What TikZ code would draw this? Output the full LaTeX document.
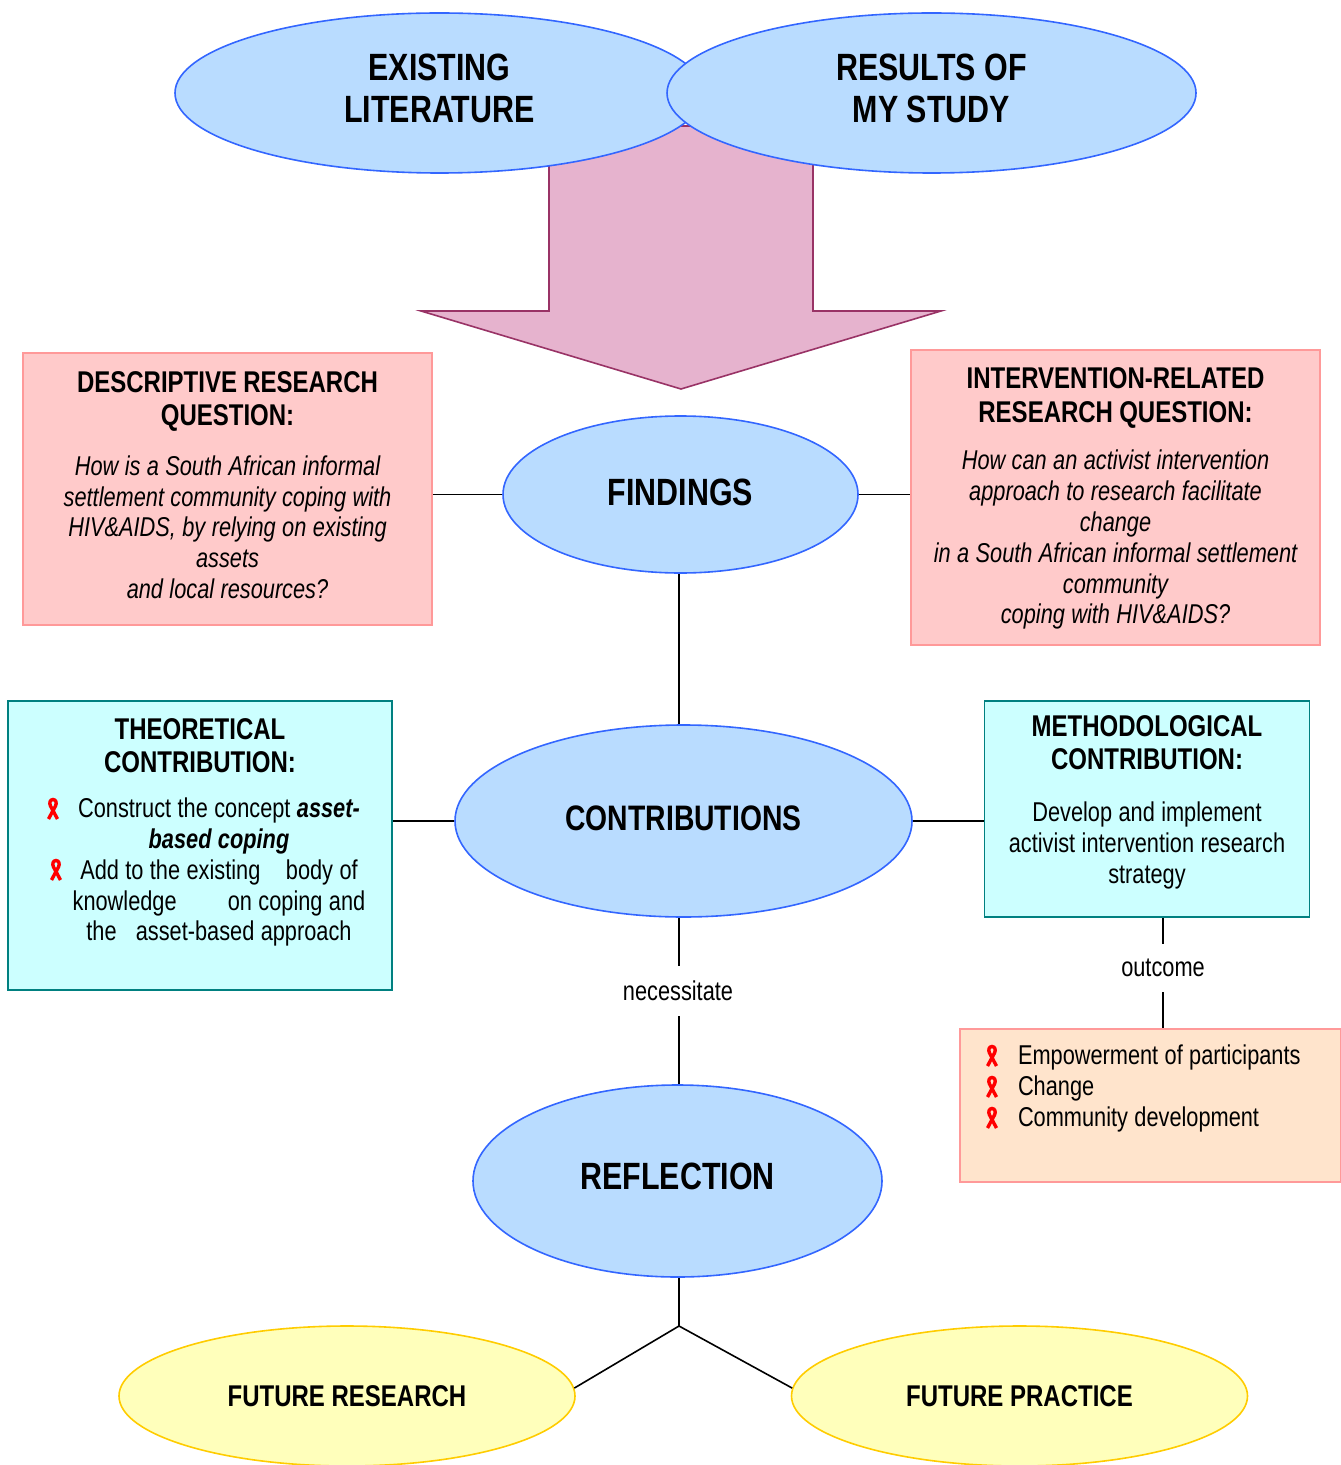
\documentclass[tikz,border=0pt]{standalone}
\usepackage{fontspec}
\setmainfont[FakeStretch=0.8]{Liberation Sans}
\usetikzlibrary{shapes.geometric}

\newcommand{\boxhead}[1]{{\fontsize{15}{16.75}\selectfont\bfseries\spaceskip=3.1pt\relax #1\par}}
\newcommand{\boxfoot}[1]{\par\nointerlineskip\vbox to #1{}}
\newcommand{\boxcenter}{\centering\spaceskip=3.2pt\relax}
\newcommand{\boxleft}{\raggedright\spaceskip=3.2pt\relax}

\definecolor{ellfill}{HTML}{B9DCFF}
\definecolor{ellline}{HTML}{3366FF}
\definecolor{arrfill}{HTML}{E6B3CE}
\definecolor{arrline}{HTML}{993366}
\definecolor{pinkfill}{HTML}{FFCACA}
\definecolor{pinkline}{HTML}{FF9999}
\definecolor{cyanfill}{HTML}{CCFFFF}
\definecolor{cyanline}{HTML}{008080}
\definecolor{peachfill}{HTML}{FFE4CC}
\definecolor{yelfill}{HTML}{FFFFBB}
\definecolor{yelline}{HTML}{FFCC00}

\begin{document}
\begin{tikzpicture}[x=0.5pt,y=-0.5pt,
    bigell/.style ={ellipse, draw=ellline, fill=ellfill, thick, inner sep = 0pt, align=center, font=\fontsize{19}{21}\selectfont\bfseries},
    smallell/.style ={ellipse, draw=yelline, fill=yelfill, thick, inner sep = 0pt, font=\fontsize{15}{17}\selectfont\bfseries, minimum width=228pt, minimum height=70pt},
    textbox/.style ={rectangle, thick, inner sep = 0pt, font=\fontsize{13.6}{15.4}\selectfont},
    question/.style ={textbox, draw=pinkline, fill=pinkfill, minimum width=204.5pt, execute at begin node=\boxcenter},
    contrib/.style ={textbox, draw=cyanline, fill=cyanfill, execute at begin node=\boxcenter},
    gaplabel/.style ={fill=white, inner sep = 0pt, font=\fontsize{13.6}{15.4}\selectfont},
    ribbon/.pic ={\draw[red, line width=1.7pt] (-4.5,10) -- (2.5,-3) .. controls (4,-6) and (3,-9.5) .. (0,-9.5) .. controls (-3,-9.5) and (-4,-6) .. (-2.5,-3) -- (4.5,10);}]
   \useasboundingbox (0,0) rectangle (1340,1465);

   \draw[thick, draw=arrline, fill=arrfill] (549,126) -- (813,126) -- (813,311) -- (941,311) -- (681,389) -- (421,311) -- (549,311) -- cycle;

   \node[bigell, minimum width=264.5pt, minimum height=80pt, text depth=5pt] (L) at (439.5,93) {EXISTING\\[0pt]LITERATURE};
   \node[bigell, minimum width=264.5pt, minimum height=80pt, text depth=5pt] (S) at (931.5,93) {RESULTS OF\\[0pt]MY STUDY};
   \node[bigell, minimum width=177.5pt, minimum height=78.5pt, text depth=2pt] (F) at (680.5,494.5) {FINDINGS};
   \node[bigell, minimum width=228.5pt, minimum height=96pt, text depth=3pt, font=\fontsize{17.7}{21}\selectfont\bfseries] (C) at (683.5,821) {CONTRIBUTIONS};
   \node[bigell, minimum width=204.5pt, minimum height=96pt, text depth=5pt] (R) at (677.5,1181) {REFLECTION};
   \node[smallell] (A) at (347,1396) {FUTURE RESEARCH};
   \node[smallell] (B) at (1019.5,1396) {FUTURE PRACTICE};

   \node[question, text width=200pt, minimum height=136pt] (D) at (227.5,489) {\boxhead{DESCRIPTIVE RESEARCH\\QUESTION:}\vspace{9.5pt}\itshape
     How is a South African informal\\settlement community coping with\\HIV\&AIDS, by relying on existing\\assets\\and local resources?\boxfoot{4pt}};
   \node[question, text width=200pt, minimum height=147.5pt] (I) at (1115.5,497.5) {\boxhead{\rule{0pt}{11.5pt}INTERVENTION-RELATED\\RESEARCH QUESTION:}\vspace{8.5pt}\itshape
     How can an activist intervention\\approach to research facilitate\\change\\in a South African informal settlement\\community\\coping with HIV\&AIDS?};
   \node[contrib, text width=190pt, minimum width=192pt, minimum height=144.5pt] (T) at (200,845.5) {\boxhead{THEORETICAL\\CONTRIBUTION:}\vspace{7pt}{\leftskip=19pt plus 1fil \rightskip=0pt plus 1fil
     Construct the concept \textbf{\textit{asset-}}\\\textbf{\textit{based coping}}\\Add to the existing\ \ \ \ body of\\knowledge\ \ \ \ \ \ \ \ on coping and\\the\ \ \ asset-based approach\par}\boxfoot{13pt}};
   \node[contrib, text width=160pt, minimum width=162.5pt, minimum height=108pt] (M) at (1147,809) {\boxhead{METHODOLOGICAL\\CONTRIBUTION:}\vspace{10.5pt}
     Develop and implement\\activist intervention research\\strategy\boxfoot{7pt}};
   \node[textbox, draw=pinkline, fill=peachfill, text width=190.5pt, minimum height=76.5pt, execute at begin node=\boxleft] (P) at (1150.5,1105.5) {\leftskip=29pt
     Empowerment of participants\\Change\\Community development\boxfoot{17pt}};

   \node[gaplabel, minimum height=25pt] (n) at (678,991) {necessitate};
   \node[gaplabel, minimum height=24pt] (o) at (1163,968) {outcome};
   \coordinate (J) at (679,1326);

   \pic at (53,809) {ribbon};
   \pic at (56,870) {ribbon};
   \pic at (992,1056) {ribbon};
   \pic at (992,1087) {ribbon};
   \pic at (992,1118) {ribbon};

   \draw[thick] (F.west) to (F.west -| D.east);
   \draw[thick] (F.east) to (F.east -| I.west);
   \draw[thick] (F.south -| J) to (C.north -| J);

   \draw[thick] (C.west) to (C.west -| T.east);
   \draw[thick] (C.east) to (C.east -| M.west);
   \draw[thick] (C.south -| J) to (J |- n.north);
   \draw[thick] (J |- n.south) to (R.north -| J);
   \draw[thick] (o |- M.south) to (o.north);
   \draw[thick] (o.south) to (o |- P.north);

   \draw[thick] (R.south -| J) to (J);
   \draw[thick] (J) to (A.2);
   \draw[thick] (J) to (B.178);
 \end{tikzpicture}
\end{document}
